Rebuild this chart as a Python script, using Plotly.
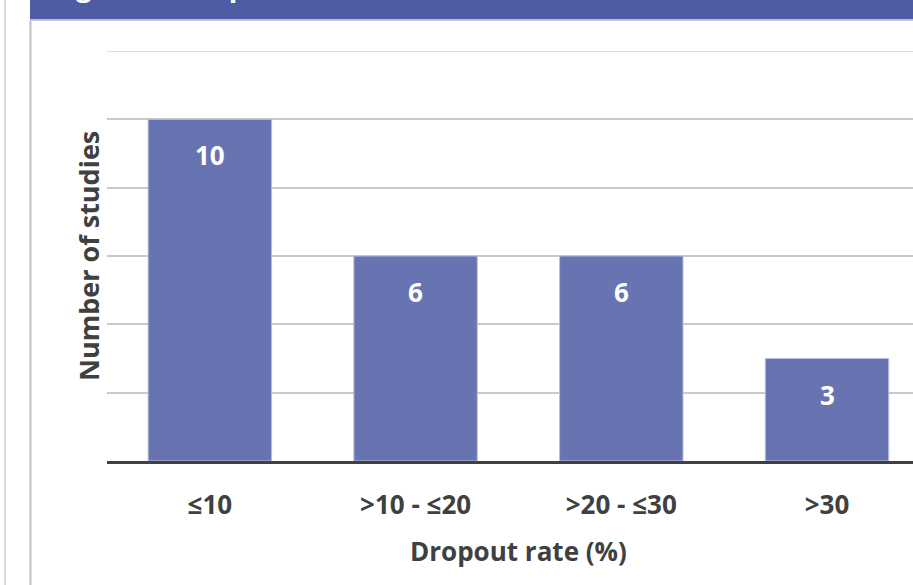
import plotly.graph_objects as go

# Dropout-rate bins and number of studies in each
categories = ["≤10", ">10 - ≤20", ">20 - ≤30", ">30"]
studies = [10, 6, 6, 3]

W, H = 913, 585
L, R, T, B = 107, 0, 51, 124
PW = W - L - R
PH = H - T - B

TEXT = "#404040"
BAR = "#6874B2"
HEAD = "#4F5BA3"
FONT = "Open Sans"


def px_x(px):
    return (px - L) / PW


def px_y(py):
    return (H - B - py) / PH


fig = go.Figure(
    go.Bar(
        x=list(range(len(categories))),
        y=studies,
        width=0.6,
        marker=dict(color=BAR, line=dict(color="#B7BEE2", width=1)),
        hoverinfo="skip",
    )
)

# value labels just inside the top of each bar
for i, v in enumerate(studies):
    fig.add_annotation(
        x=i, y=v, text=str(v), showarrow=False, yanchor="middle", yshift=-36,
        font=dict(family=FONT, size=26, color="white", weight="bold"),
    )

# axis titles
fig.add_annotation(
    xref="paper", yref="paper", x=px_x(88), y=0.5, text="Number of studies",
    textangle=-90, showarrow=False, xanchor="center", yanchor="middle",
    font=dict(family=FONT, size=27, color=TEXT, weight="bold"),
)
fig.add_annotation(
    xref="paper", yref="paper", x=px_x(518), y=px_y(551), text="Dropout rate (%)",
    showarrow=False, xanchor="center", yanchor="middle",
    font=dict(family=FONT, size=26, color=TEXT, weight="bold"),
)

# top gridline at 12
fig.add_shape(type="line", xref="paper", yref="y", x0=0, x1=1, y0=12, y1=12,
              line=dict(color="#DDDDDD", width=2), layer="below")

# header band with its title running off the top edge
fig.add_shape(type="rect", xref="paper", yref="paper",
              x0=px_x(30), x1=px_x(W + 5), y0=px_y(19), y1=px_y(-5),
              fillcolor=HEAD, line=dict(width=0), layer="above")
fig.add_shape(type="line", xref="paper", yref="paper",
              x0=px_x(30), x1=px_x(W + 5), y0=px_y(20), y1=px_y(20),
              line=dict(color="#C4C4CC", width=2), layer="above")
fig.add_annotation(
    xref="paper", yref="paper", x=px_x(50), y=px_y(6), text="Figure 2. Dropout rates",
    showarrow=False, xanchor="left", yanchor="bottom",
    font=dict(family=FONT, size=28, color="white", weight="bold"),
)

# page frame lines on the left
for xp, col in [(5, "#DADADA"), (30.5, "#C0C0C0")]:
    fig.add_shape(type="line", xref="paper", yref="paper",
                  x0=px_x(xp), x1=px_x(xp), y0=px_y(20 if xp > 20 else 0), y1=px_y(H + 5),
                  line=dict(color=col, width=2), layer="above")

fig.update_layout(
    width=W, height=H,
    margin=dict(l=L, r=R, t=T, b=B),
    paper_bgcolor="white", plot_bgcolor="white",
    showlegend=False,
    font=dict(family=FONT, color=TEXT),
    xaxis=dict(
        tickmode="array", tickvals=list(range(len(categories))), ticktext=categories,
        range=[-0.5, 3.418], showgrid=False, zeroline=False,
        showline=True, linecolor="#404040", linewidth=3,
        ticks="", ticklabelstandoff=19,
        tickfont=dict(family=FONT, size=26, color=TEXT, weight="bold"),
    ),
    yaxis=dict(
        range=[0, 12], dtick=2, showticklabels=False, ticks="",
        showgrid=True, gridcolor="#C9C9C9", gridwidth=2, zeroline=False,
    ),
)

fig.write_html("out.html")
